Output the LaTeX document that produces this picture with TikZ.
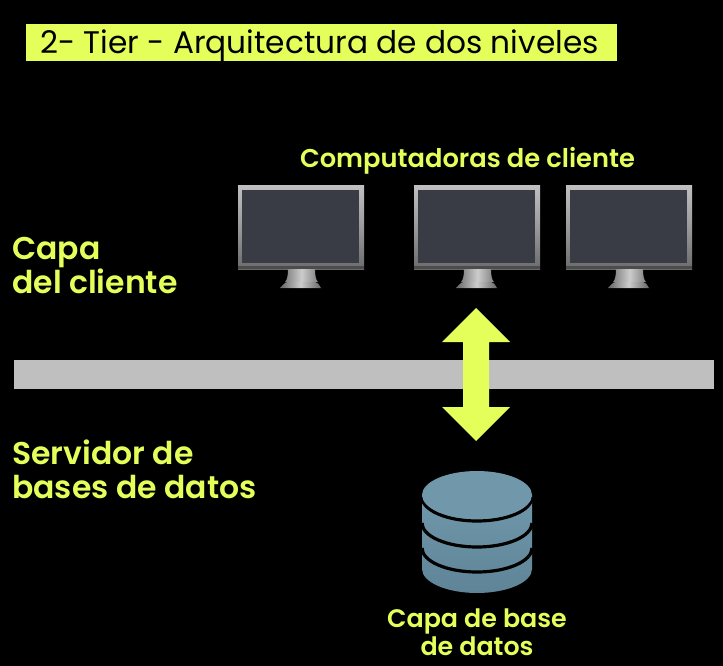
\documentclass[tikz,border=0pt]{standalone}
\usepackage{fontspec}
\setmainfont[BoldFont={Poppins SemiBold}]{Poppins}
\usetikzlibrary{calc}
\definecolor{lime}{HTML}{E4FF5A}
\definecolor{barg}{HTML}{BFBFBF}
\definecolor{dbtop}{HTML}{7097AA}
\definecolor{dbbot}{HTML}{5F8497}
\definecolor{screen}{HTML}{393C44}
\tikzset{
  x=0.75pt,y=-0.75pt,
  label text/.style={text=lime,font=\fontsize{23.6}{25.5}\selectfont\bfseries,align=left,inner sep=0pt,anchor=west},
  small label/.style={text=lime,font=\fontsize{19.3}{21}\selectfont\bfseries,align=center,inner sep=0pt},
  pics/monitor/.style={code={
    \shade[top color=black!25!white,bottom color=black!58!white,middle color=black!40!white] (0,0) rectangle (126,83);
    \fill[black!70!white] (0,80) rectangle (126,83);
    \fill[screen] (4,4) rectangle (121,77);
    \shade[left color=black!50!white,right color=black!50!white,middle color=black!20!white]
      (50,83) -- (77,83) .. controls (77,90) and (78,94) .. (80,96) -- (47,96) .. controls (49,94) and (50,90) .. (50,83) -- cycle;
    \shade[left color=black!60!white,right color=black!60!white,middle color=black!20!white]
      (42,102) .. controls (45,99) and (47,96) .. (50,96) -- (77,96) .. controls (80,96) and (81,99) .. (83,102) -- cycle;
  }}
}
\begin{document}
\begin{tikzpicture}
\useasboundingbox (0,0) rectangle (723,666);
\fill[black] (0,0) rectangle (723,666);
% title
\fill[lime] (26,24) rectangle (617,61);
\node[anchor=west,inner sep=0pt,text=black,font=\fontsize{23.4}{26}\selectfont] (title) at (40,46) {2- Tier - Arquitectura de dos niveles};
% labels
\node[small label] (clientes) at (467.5,161) {Computadoras de cliente};
\node[label text] (capa) at (12,265.5) {Capa\\del cliente};
\node[label text] (servidor) at (12,469) {Servidor de\\bases de datos};
\node[small label,font=\fontsize{19}{21}\selectfont\bfseries] (base) at (477,632) {Capa de base\\de datos};
% monitors
\pic at (238,186) {monitor};
\pic at (414,186) {monitor};
\pic at (566,186) {monitor};
% bar
\fill[barg] (14,360) rectangle (714,389);
% arrow
\fill[lime] (476,308) -- (510,342) -- (489,342) -- (489,407) -- (510,407) -- (476,441) -- (442,407) -- (463,407) -- (463,342) -- (442,342) -- cycle;
% database
\shade[top color=dbtop,bottom color=dbbot] (422,495) -- (422,569) arc[start angle=180,end angle=0,x radius=55,y radius=24] -- (532,495) -- cycle;
\foreach \yy in {497,523,548}{
  \draw[black,line width=2.4pt] (422,\yy) arc[start angle=180,end angle=0,x radius=55,y radius=24];
}
\fill[dbtop] (477,495) ellipse[x radius=55,y radius=24];
\end{tikzpicture}
\end{document}
